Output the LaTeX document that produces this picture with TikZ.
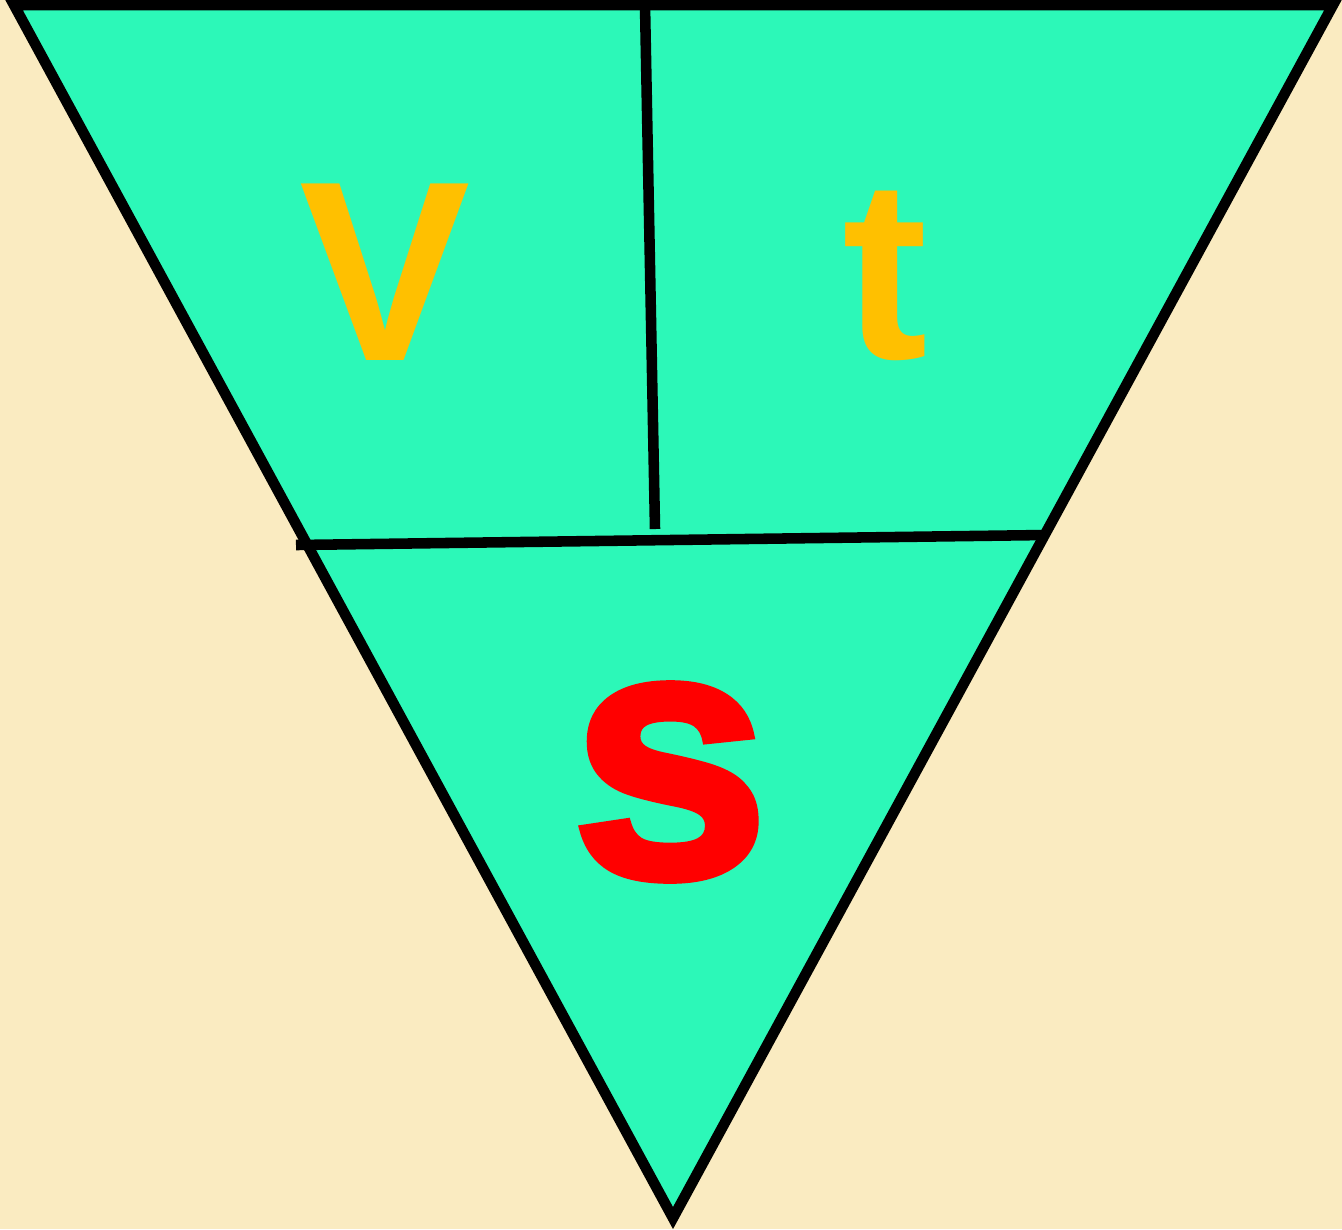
\documentclass[tikz,border=0pt]{standalone}
\usepackage{fontspec}
\usepackage{xcolor}
\usepackage{tikz}
\setmainfont{Liberation Sans}
\newfontfamily\heavyfont[FakeBold=2.5]{Liberation Sans Bold}
\definecolor{pagecream}{HTML}{FAEBC1}
\definecolor{tribright}{HTML}{2CF8B8}
\definecolor{letterorange}{HTML}{FFC000}
\definecolor{letterred}{HTML}{FF0000}
\tikzset{
  edgeline/.style={draw=black,line width=3pt},
  quantity/.style={inner sep=0pt,text=letterorange,font=\fontsize{73}{80}\selectfont\bfseries},
  result/.style={inner sep=0pt,text=letterred,font=\fontsize{101}{110}\selectfont\heavyfont}
}
\begin{document}
\begin{tikzpicture}[x=0.01cm,y=-0.01cm]
\fill[pagecream] (0,0) rectangle (1342,1229);
\useasboundingbox (0,0) rectangle (1342,1229);
\coordinate (tl) at (14,5);
\coordinate (tr) at (1333,5);
\coordinate (apex) at (673,1218);
\coordinate (midl) at (296,545);
\coordinate (midr) at (1045,535);
\coordinate (topc) at (645,5);
\coordinate (midc) at (655,529);
\filldraw[edgeline,fill=tribright,line join=miter] (tl) -- (tr) -- (apex) -- cycle;
\draw[edgeline] (midl) -- (midr);
\draw[edgeline] (topc) -- (midc);
\node[quantity] (vel) at (385,272) {V};
\node[quantity] (time) at (885,276) {t};
\node[result] (dist) at (670,782) {s};
\end{tikzpicture}
\end{document}
